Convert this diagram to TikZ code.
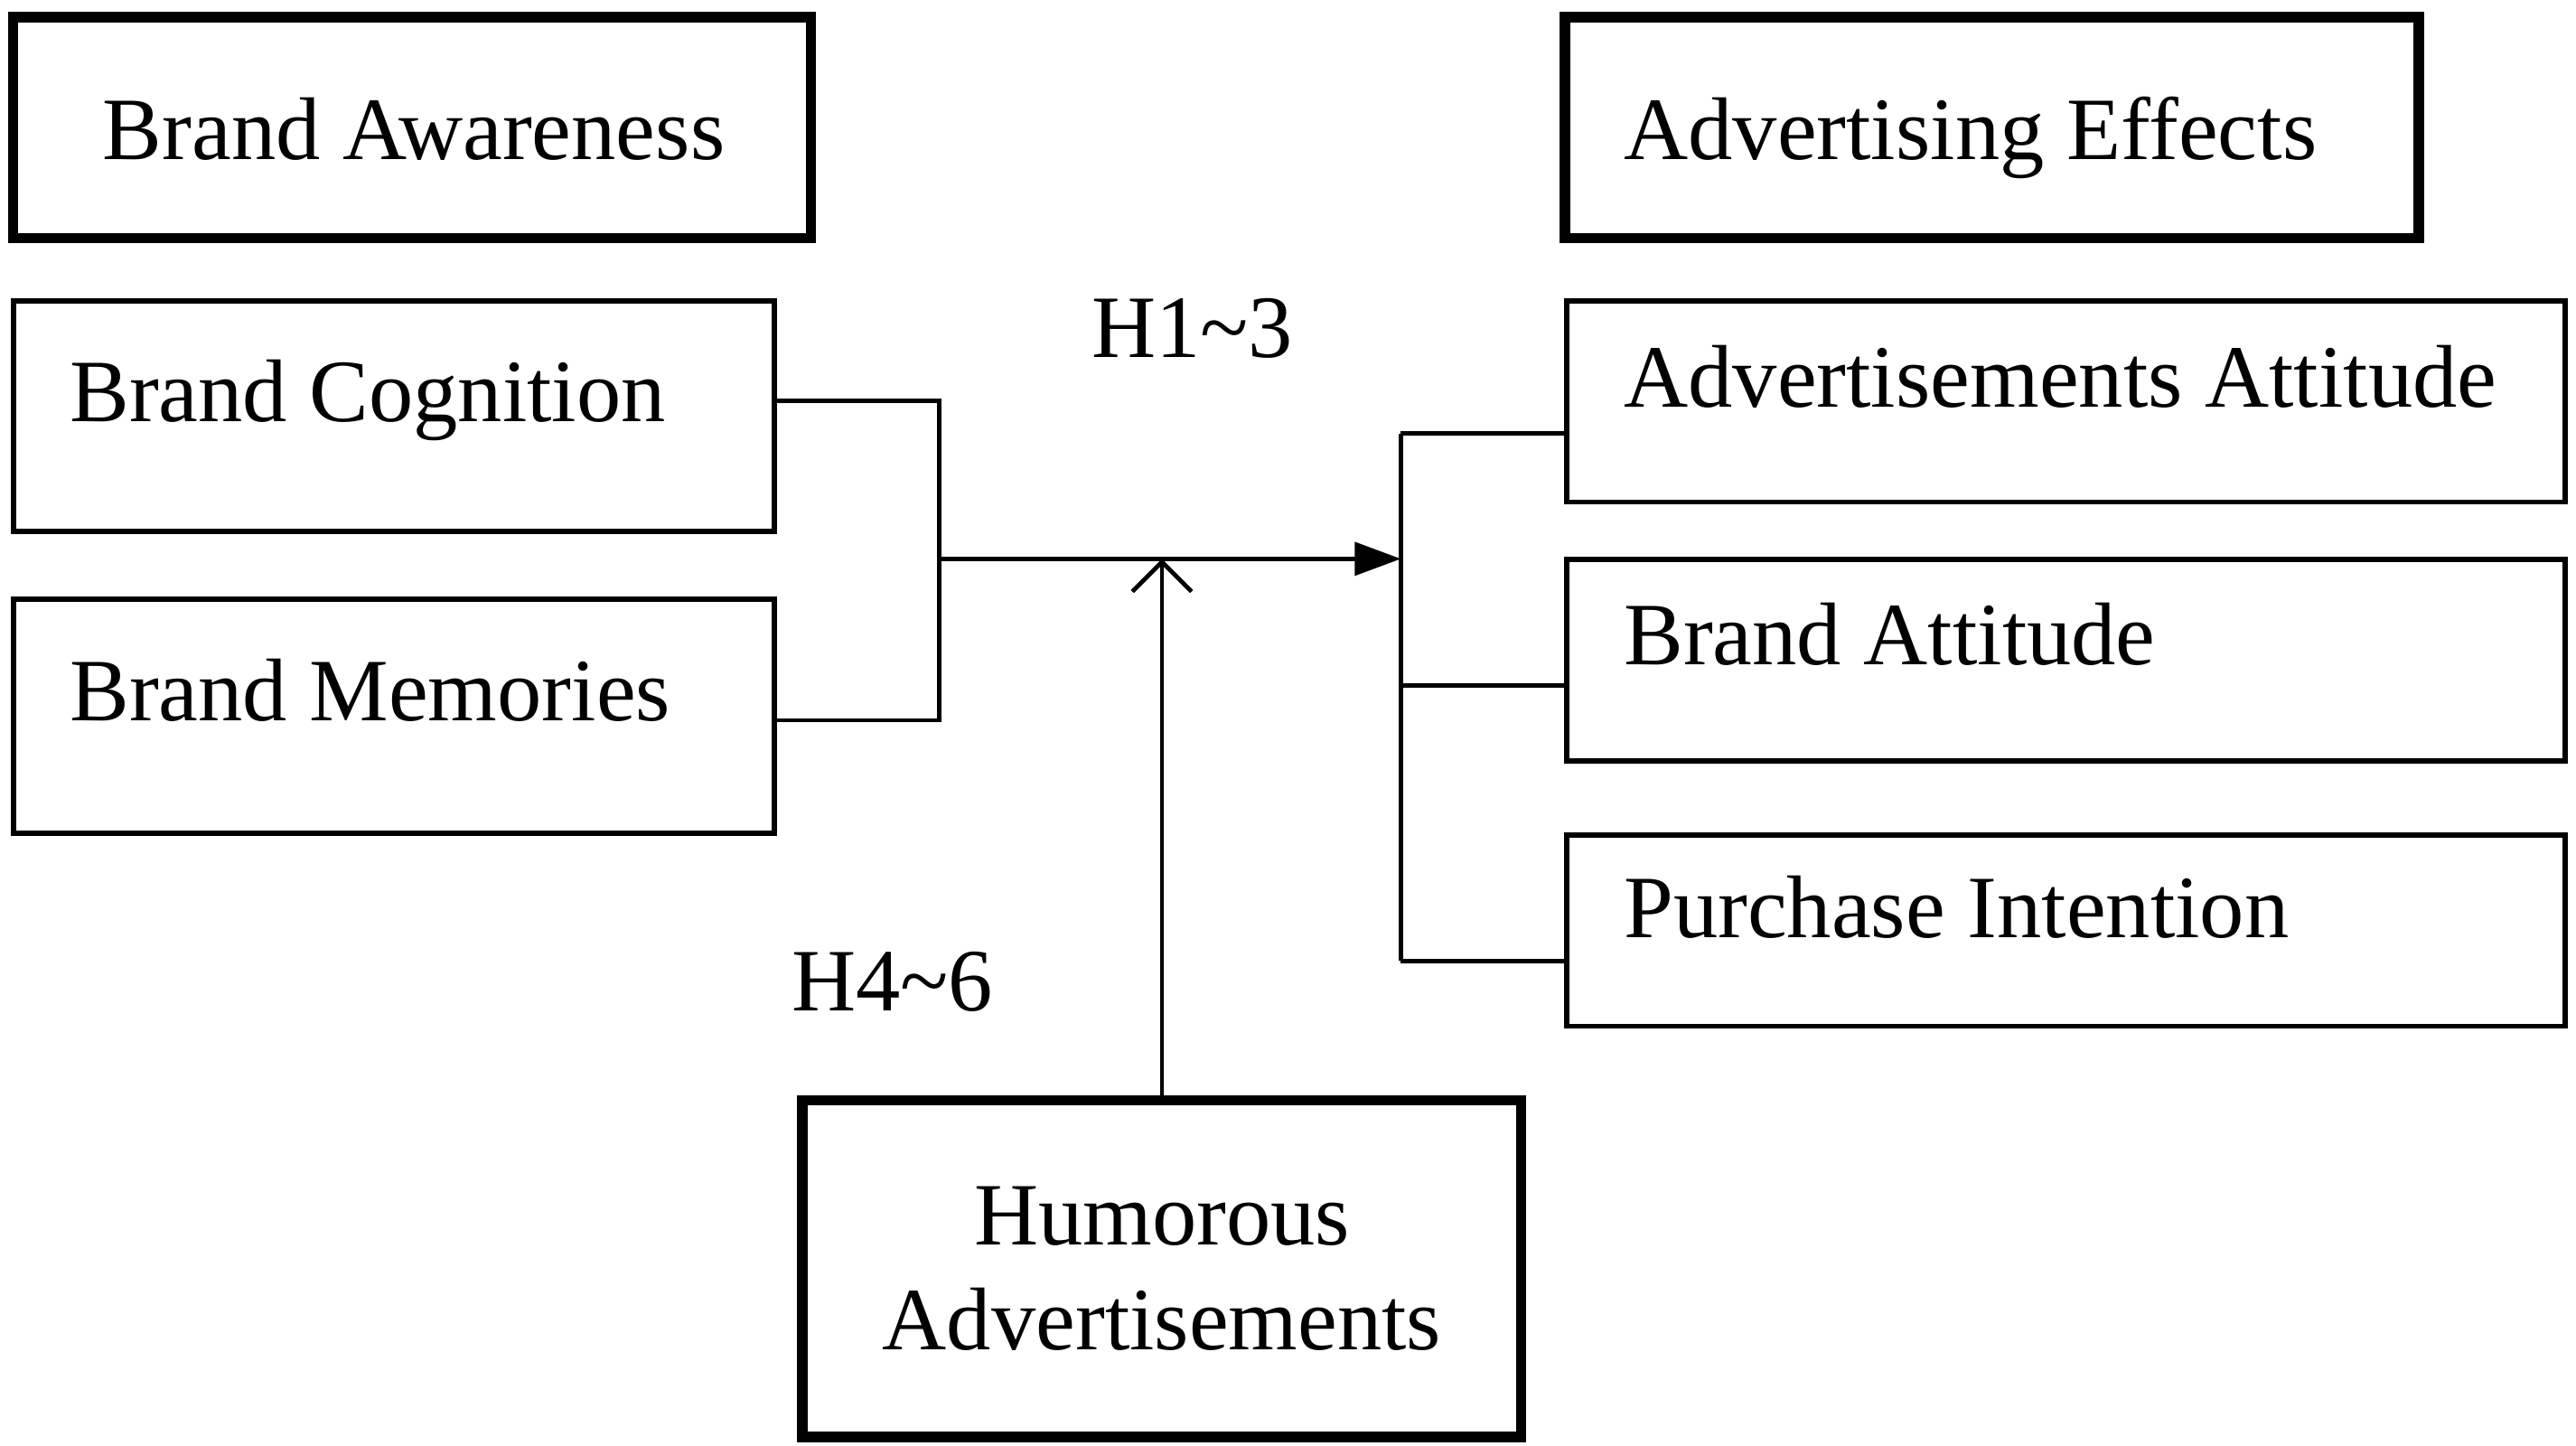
\documentclass[tikz,border=0pt]{standalone}
\usepackage{fontspec}
\setmainfont{Liberation Serif}
\usetikzlibrary{arrows.meta}
\begin{document}
\begin{tikzpicture}[x=0.5pt,y=-0.5pt,
 box/.style={draw,line width=1.6pt,rectangle,inner sep=0pt},
 tbox/.style={draw,line width=3.2pt,rectangle,inner sep=0pt},
 lbl/.style={anchor=base west,inner sep=0pt,font=\fontsize{27}{32}\selectfont},
 ln/.style={line width=1.3pt}]
\useasboundingbox (0,0) rectangle (1563,877);
\fill[white] (0,0) rectangle (1563,877);
% boxes
\node[tbox,minimum width=242pt,minimum height=67pt] (aw) at (250,77.5) {};
\node[tbox,minimum width=259pt,minimum height=67pt] (ae) at (1208.5,77.5) {};
\node[box,minimum width=231pt,minimum height=70pt] (bc) at (239,252.5) {};
\node[box,minimum width=231pt,minimum height=71pt] (bm) at (239,434.5) {};
\node[box,minimum width=303pt,minimum height=61pt] (aa) at (1253.5,243.5) {};
\node[box,minimum width=303pt,minimum height=61pt] (ba) at (1253.5,400.5) {};
\node[box,minimum width=303pt,minimum height=58pt] (pi) at (1253.5,564.5) {};
\node[tbox,minimum width=218pt,minimum height=102pt,align=center,font=\fontsize{27}{32}\selectfont] (ha) at (705,769.5) {Humorous\\Advertisements};
% texts
\node[lbl] (t1) at (62,97) {Brand Awareness};
\node[lbl] (t2) at (985,97) {Advertising Effects};
\node[lbl] (t3) at (42,256) {Brand Cognition};
\node[lbl] (t4) at (42,437) {Brand Memories};
\node[lbl] (t5) at (985,247) {Advertisements Attitude};
\node[lbl] (t6) at (985,403) {Brand Attitude};
\node[lbl] (t7) at (985,569) {Purchase Intention};
\node[lbl] (h1) at (662,217) {H1\textasciitilde3};
\node[lbl] (h4) at (480,613) {H4\textasciitilde6};
% connectors
\coordinate (j1) at (570,243);
\coordinate (j2) at (570,437);
\coordinate (jm) at (570,339);
\coordinate (r) at (850,339);
\coordinate (rt) at (850,263);
\coordinate (rb) at (850,583);
\coordinate (m) at (705,339);
\draw[ln] (bc.east |- j1) -- (j1) -- (j2) -- (bm.east |- j2);
\draw[ln,-{Triangle[length=14pt,width=10pt]}] (jm) -- (r);
\draw[ln] (rt) -- (rb);
\draw[ln] (rt) -- (aa.west |- rt);
\draw[ln] (850,416) -- (ba.west |- 0,416);
\draw[ln] (rb) -- (pi.west |- rb);
\draw[ln,-{Straight Barb[length=9pt,width=18pt]}] (ha.north) -- (m);
\end{tikzpicture}
\end{document}
